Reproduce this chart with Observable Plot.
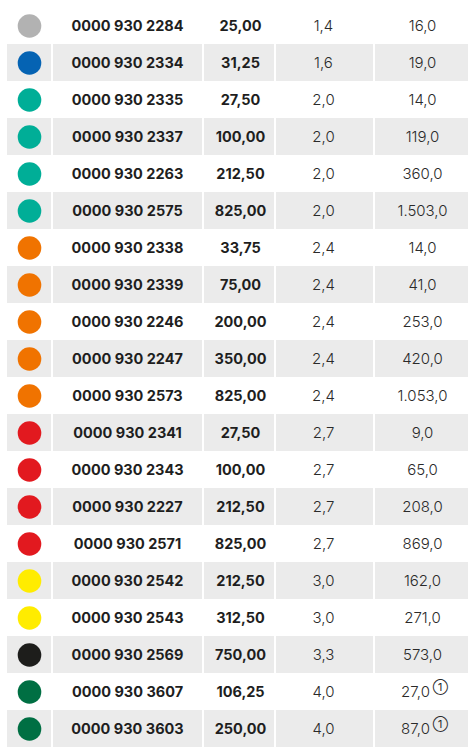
<!DOCTYPE html>
<html>
<head>
<meta charset="utf-8">
<script src="https://cdn.jsdelivr.net/npm/d3@7"></script>
<script src="https://cdn.jsdelivr.net/npm/@observablehq/plot@0.6"></script>
<style>
  html, body { margin: 0; padding: 0; background: #fff; }
  #chart svg { display: block; }
</style>
</head>
<body>
<div id="chart"></div>
<script>
// ---- data ----
const colorNames = ["grau","blau","türkis","türkis","türkis","türkis","orange","orange","orange","orange","orange","rot","rot","rot","rot","gelb","gelb","schwarz","dunkelgrün","dunkelgrün"];
const codes = ["0000 930 2284","0000 930 2334","0000 930 2335","0000 930 2337","0000 930 2263","0000 930 2575","0000 930 2338","0000 930 2339","0000 930 2246","0000 930 2247","0000 930 2573","0000 930 2341","0000 930 2343","0000 930 2227","0000 930 2571","0000 930 2542","0000 930 2543","0000 930 2569","0000 930 3607","0000 930 3603"];
const prices = ["25,00","31,25","27,50","100,00","212,50","825,00","33,75","75,00","200,00","350,00","825,00","27,50","100,00","212,50","825,00","212,50","312,50","750,00","106,25","250,00"];
const thickness = ["1,4","1,6","2,0","2,0","2,0","2,0","2,4","2,4","2,4","2,4","2,4","2,7","2,7","2,7","2,7","3,0","3,0","3,3","4,0","4,0"];
const lengths = ["16,0","19,0","14,0","119,0","360,0","1.503,0","14,0","41,0","253,0","420,0","1.053,0","9,0","65,0","208,0","869,0","162,0","271,0","573,0","27,0","87,0"];
const footnotes = [false,false,false,false,false,false,false,false,false,false,false,false,false,false,false,false,false,false,true,true];

const colorDomain = ["grau","blau","türkis","orange","rot","gelb","schwarz","dunkelgrün"];
const colorRange  = ["#b2b2b2","#0563b3","#00ae97","#f07300","#e2191f","#ffec00","#1d1d1b","#006f43"];

// ---- layout (pixels) ----
const W = 468, H = 747;
const rowH = 37.8, top0 = -1.5;
const cols = [ {x1: 7, x2: 51}, {x1: 53, x2: 202}, {x1: 204, x2: 274}, {x1: 276, x2: 373}, {x1: 375, x2: 468} ];
const colCenter = [29, 127, 240, 323, 422];

const rows = codes.map((c, i) => ({
  i, color: colorNames[i], code: c, price: prices[i], thick: thickness[i], len: lengths[i], fn: footnotes[i]
}));
const idx = rows.map(d => d.i);
const plainRows = rows.filter(d => !d.fn);
const noteRows = rows.filter(d => d.fn);

const shaded = [];
rows.filter(d => d.i % 2 === 1).forEach(d => cols.forEach(c => shaded.push({i: d.i, x1: c.x1, x2: c.x2})));

const font = "Inter, Lato, sans-serif";
const ink = "#1e1e1e";
const fs = 14.5;
const fsr = 15;

const chart = Plot.plot({
  width: W, height: H,
  margin: 0,
  style: {fontFamily: font, background: "#fff"},
  x: {type: "linear", domain: [0, W], range: [0, W], axis: null},
  y: {type: "band", domain: idx, range: [top0, top0 + rowH * idx.length], padding: 0, axis: null},
  color: {type: "ordinal", domain: colorDomain, range: colorRange},
  marks: [
    Plot.rect(shaded, {x1: "x1", x2: "x2", y: "i", fill: "#ebebeb"}),
    Plot.dot(rows, {x: () => colCenter[0], y: "i", r: 11.8, fill: "color"}),
    Plot.text(rows, {x: () => colCenter[1], y: "i", text: "code", fontWeight: 700, fontSize: fs, fill: ink}),
    Plot.text(rows, {x: () => colCenter[2], y: "i", text: "price", fontWeight: 700, fontSize: fs, fill: ink}),
    Plot.text(rows, {x: () => colCenter[3], y: "i", text: "thick", fontWeight: 300, fontSize: fsr, fill: "#2a2a2a"}),
    Plot.text(plainRows, {x: () => colCenter[4], y: "i", text: "len", fontWeight: 300, fontSize: fsr, fill: "#2a2a2a"}),
    Plot.text(noteRows, {x: () => colCenter[4], y: "i", text: "len", dx: -7, fontWeight: 300, fontSize: fsr, fill: "#2a2a2a"}),
    Plot.text(noteRows, {x: () => colCenter[4], y: "i", text: () => "①", dx: 18, dy: -5, fontSize: 11, fill: "#2a2a2a"})
  ]
});
document.getElementById("chart").appendChild(chart);
</script>
</body>
</html>
